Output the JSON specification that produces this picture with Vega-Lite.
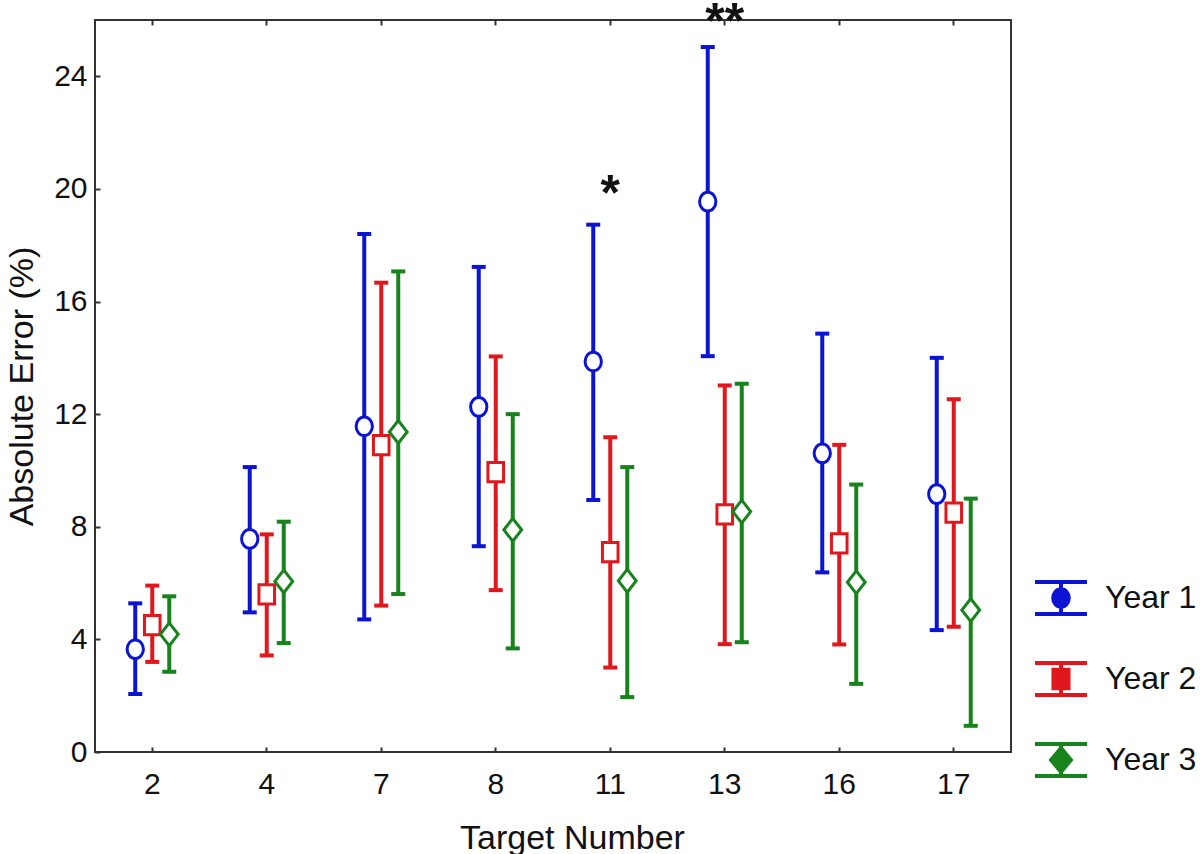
{
  "$schema": "https://vega.github.io/schema/vega-lite/v6.json",
  "width": 916,
  "height": 732,
  "autosize": {"type": "none"},
  "padding": {"left": 95, "top": 20, "right": 189, "bottom": 102},
  "background": "white",
  "config": {
    "font": "Liberation Sans",
    "view": {"stroke": "#333333", "strokeWidth": 2},
    "axis": {"labelFont": "Liberation Sans", "titleFont": "Liberation Sans", "labelColor": "#111111", "titleColor": "#111111", "titleFontWeight": "normal", "grid": false, "domain": false, "tickColor": "#333333", "tickWidth": 2},
    "legend": {"orient": "none", "legendX": 938, "legendY": 550, "title": null, "padding": 0, "labelFontSize": 32, "labelFont": "Liberation Sans", "labelColor": "#111111", "labelOffset": 16, "rowPadding": 29, "symbolSize": 2704, "symbolStrokeWidth": 4, "symbolFillColor": "white", "symbolOpacity": 1}
  },
  "data": {
    "values": [
      {"Target": "2", "Year": "Year 1", "mean": 3.65, "lo": 2.06, "hi": 5.28},
      {"Target": "2", "Year": "Year 2", "mean": 4.51, "lo": 3.20, "hi": 5.91},
      {"Target": "2", "Year": "Year 3", "mean": 4.18, "lo": 2.85, "hi": 5.53},
      {"Target": "4", "Year": "Year 1", "mean": 7.57, "lo": 4.96, "hi": 10.12},
      {"Target": "4", "Year": "Year 2", "mean": 5.60, "lo": 3.43, "hi": 7.73},
      {"Target": "4", "Year": "Year 3", "mean": 6.06, "lo": 3.87, "hi": 8.18},
      {"Target": "7", "Year": "Year 1", "mean": 11.57, "lo": 4.71, "hi": 18.40},
      {"Target": "7", "Year": "Year 2", "mean": 10.90, "lo": 5.20, "hi": 16.67},
      {"Target": "7", "Year": "Year 3", "mean": 11.37, "lo": 5.61, "hi": 17.07},
      {"Target": "8", "Year": "Year 1", "mean": 12.26, "lo": 7.31, "hi": 17.23},
      {"Target": "8", "Year": "Year 2", "mean": 9.94, "lo": 5.75, "hi": 14.05},
      {"Target": "8", "Year": "Year 3", "mean": 7.89, "lo": 3.68, "hi": 12.00},
      {"Target": "11", "Year": "Year 1", "mean": 13.87, "lo": 8.95, "hi": 18.73},
      {"Target": "11", "Year": "Year 2", "mean": 7.10, "lo": 3.00, "hi": 11.18},
      {"Target": "11", "Year": "Year 3", "mean": 6.08, "lo": 1.95, "hi": 10.12},
      {"Target": "13", "Year": "Year 1", "mean": 19.55, "lo": 14.06, "hi": 25.04},
      {"Target": "13", "Year": "Year 2", "mean": 8.44, "lo": 3.83, "hi": 13.02},
      {"Target": "13", "Year": "Year 3", "mean": 8.54, "lo": 3.90, "hi": 13.08},
      {"Target": "16", "Year": "Year 1", "mean": 10.61, "lo": 6.38, "hi": 14.86},
      {"Target": "16", "Year": "Year 2", "mean": 7.41, "lo": 3.82, "hi": 10.91},
      {"Target": "16", "Year": "Year 3", "mean": 6.03, "lo": 2.42, "hi": 9.50},
      {"Target": "17", "Year": "Year 1", "mean": 9.16, "lo": 4.33, "hi": 14.00},
      {"Target": "17", "Year": "Year 2", "mean": 8.50, "lo": 4.45, "hi": 12.53},
      {"Target": "17", "Year": "Year 3", "mean": 5.04, "lo": 0.93, "hi": 9.00}
    ]
  },
  "resolve": {"axis": {"x": "independent"}},
  "layer": [
    {
      "mark": {"type": "rule", "strokeWidth": 4, "opacity": 1},
      "encoding": {
        "x": {"field": "Target", "type": "nominal", "sort": ["2", "4", "7", "8", "11", "13", "16", "17"], "scale": {"paddingInner": 0, "paddingOuter": 0},
          "axis": {"orient": "bottom", "title": "Target Number", "titleFontSize": 34, "titleX": 477, "titlePadding": 22, "labelFontSize": 30, "labelAngle": 0, "tickSize": -5, "labelPadding": 22}},
        "xOffset": {"field": "Year", "type": "nominal", "scale": {"type": "point", "range": [40.25, 74.25], "padding": 0}},
        "y": {"field": "lo", "type": "quantitative", "scale": {"domain": [0, 26], "nice": false, "zero": false},
          "axis": {"title": "Absolute Error (%)", "titleFontSize": 34, "titlePadding": 14, "labelFontSize": 30, "values": [0, 4, 8, 12, 16, 20, 24], "tickSize": -5, "labelPadding": 13}},
        "y2": {"field": "hi"},
        "color": {"field": "Year", "type": "nominal", "scale": {"domain": ["Year 1", "Year 2", "Year 3"], "range": ["#0c14d4", "#e0181d", "#18821c"]}}
      }
    },
    {
      "mark": {"type": "tick", "thickness": 4, "size": 14, "orient": "horizontal", "opacity": 1},
      "encoding": {
        "x": {"field": "Target", "type": "nominal", "sort": ["2", "4", "7", "8", "11", "13", "16", "17"],
          "axis": {"orient": "top", "labels": false, "title": null, "tickSize": -5}},
        "xOffset": {"field": "Year", "type": "nominal"},
        "y": {"field": "lo", "type": "quantitative"},
        "color": {"field": "Year", "type": "nominal"}
      }
    },
    {
      "mark": {"type": "tick", "thickness": 4, "size": 14, "orient": "horizontal", "opacity": 1},
      "encoding": {
        "x": {"field": "Target", "type": "nominal", "sort": ["2", "4", "7", "8", "11", "13", "16", "17"], "axis": null},
        "xOffset": {"field": "Year", "type": "nominal"},
        "y": {"field": "hi", "type": "quantitative"},
        "color": {"field": "Year", "type": "nominal"}
      }
    },
    {
      "transform": [{"filter": "datum.Year === 'Year 1'"}],
      "mark": {"type": "point", "filled": false, "fill": "white", "fillOpacity": 1, "opacity": 1, "strokeWidth": 3, "size": 576, "shape": "M-0.68,0A0.68,0.78 0 1,0 0.68,0A0.68,0.78 0 1,0 -0.68,0Z"},
      "encoding": {
        "x": {"field": "Target", "type": "nominal", "sort": ["2", "4", "7", "8", "11", "13", "16", "17"], "axis": null},
        "xOffset": {"field": "Year", "type": "nominal"},
        "y": {"field": "mean", "type": "quantitative"},
        "color": {"field": "Year", "type": "nominal"}
      }
    },
    {
      "transform": [{"filter": "datum.Year === 'Year 2'"}],
      "mark": {"type": "point", "filled": false, "fill": "white", "fillOpacity": 1, "opacity": 1, "strokeWidth": 3, "size": 576, "shape": "M-0.65,-0.8H0.65V0.8H-0.65Z"},
      "encoding": {
        "x": {"field": "Target", "type": "nominal", "sort": ["2", "4", "7", "8", "11", "13", "16", "17"], "axis": null},
        "xOffset": {"field": "Year", "type": "nominal"},
        "y": {"field": "mean", "type": "quantitative"},
        "color": {"field": "Year", "type": "nominal"}
      }
    },
    {
      "transform": [{"filter": "datum.Year === 'Year 3'"}],
      "mark": {"type": "point", "filled": false, "fill": "white", "fillOpacity": 1, "opacity": 1, "strokeWidth": 3, "size": 576, "shape": "M0,-0.95L0.74,0L0,0.95L-0.74,0Z"},
      "encoding": {
        "x": {"field": "Target", "type": "nominal", "sort": ["2", "4", "7", "8", "11", "13", "16", "17"], "axis": null},
        "xOffset": {"field": "Year", "type": "nominal"},
        "y": {"field": "mean", "type": "quantitative"},
        "color": {"field": "Year", "type": "nominal"}
      }
    },
    {
      "mark": {"type": "point", "filled": false, "opacity": 0, "strokeWidth": 4, "size": 2704},
      "encoding": {
        "x": {"field": "Target", "type": "nominal", "sort": ["2", "4", "7", "8", "11", "13", "16", "17"], "axis": null},
        "xOffset": {"field": "Year", "type": "nominal"},
        "y": {"field": "mean", "type": "quantitative"},
        "color": {"field": "Year", "type": "nominal", "legend": {"encode": {"symbols": {"fill": {"value": "white"}, "fillOpacity": {"value": 1}}}}},
        "shape": {"field": "Year", "type": "nominal", "scale": {"domain": ["Year 1", "Year 2", "Year 3"], "range": [
          "M-1,-0.615H1M-1,0.615H1M0,-0.615V0.615M-0.3,0A0.3,0.34 0 1,0 0.3,0A0.3,0.34 0 1,0 -0.3,0Z",
          "M-1,-0.615H1M-1,0.615H1M0,-0.615V0.615M-0.29,-0.36H0.29V0.36H-0.29Z",
          "M-1,-0.615H1M-1,0.615H1M0,-0.615V0.615M0,-0.46L0.38,0L0,0.46L-0.38,0Z"]},
          "legend": {"encode": {"symbols": {"fill": {"value": "white"}, "fillOpacity": {"value": 1}}}}}
      }
    },
    {
      "data": {"values": [{"Target": "11", "pos": 19.25, "label": "*"}, {"Target": "13", "pos": 25.35, "label": "**"}]},
      "mark": {"type": "text", "fontSize": 50, "fontWeight": "bold", "font": "Liberation Sans", "color": "#111111", "baseline": "alphabetic", "align": "center"},
      "encoding": {
        "x": {"field": "Target", "type": "nominal", "sort": ["2", "4", "7", "8", "11", "13", "16", "17"], "axis": null},
        "y": {"field": "pos", "type": "quantitative"},
        "text": {"field": "label"}
      }
    }
  ]
}
